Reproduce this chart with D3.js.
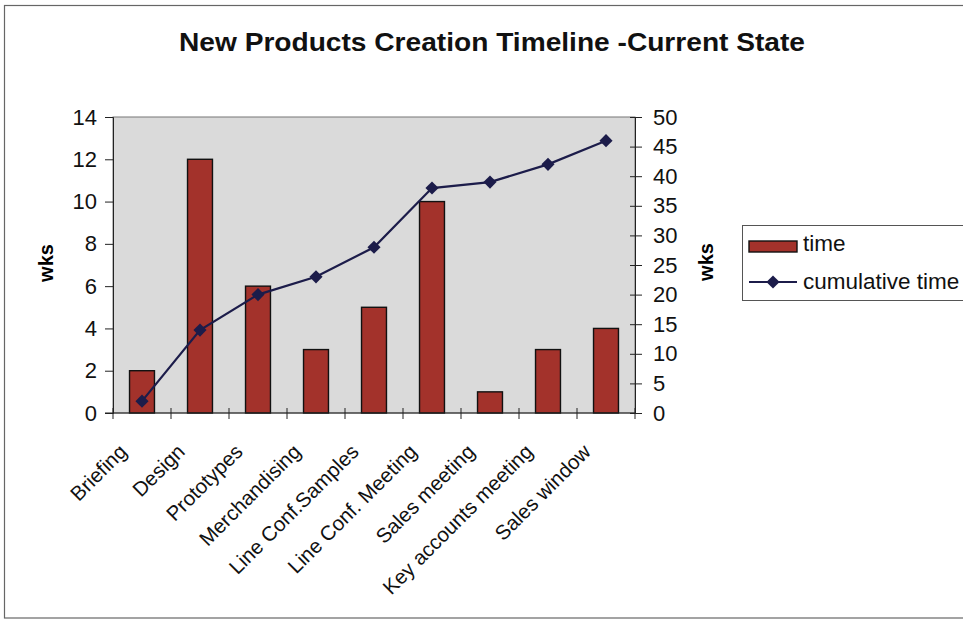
<!DOCTYPE html>
<html>
<head>
<meta charset="utf-8">
<script src="https://cdn.jsdelivr.net/npm/d3@7"></script>
<style>
  html, body { margin: 0; padding: 0; background: #fff; }
  svg { display: block; font-family: Arial, "Liberation Sans", sans-serif; }
</style>
</head>
<body>
<svg id="chart" width="963" height="628"></svg>
<script>
// Weeks spent in each step of the new-product process
const categories = ["Briefing", "Design", "Prototypes", "Merchandising", "Line Conf.Samples",
  "Line Conf. Meeting", "Sales meeting", "Key accounts meeting", "Sales window"];
const timeWeeks = [2, 12, 6, 3, 5, 10, 1, 3, 4];
const cumulativeWeeks = [2, 14, 20, 23, 28, 38, 39, 42, 46];
const leftTicks = [0, 2, 4, 6, 8, 10, 12, 14];
const rightTicks = [0, 5, 10, 15, 20, 25, 30, 35, 40, 45, 50];

const svg = d3.select("#chart");
const plot = { left: 113, right: 635, top: 117, bottom: 413 };
const FONT = "Arial, 'Liberation Sans', sans-serif";

// outer chart frame
svg.append("rect").attr("x", 4.5).attr("y", 5.5).attr("width", 980).attr("height", 612.5)
  .attr("fill", "#fff").attr("stroke", "#666").attr("stroke-width", 1.2);

// title
svg.append("text").attr("x", 492).attr("y", 51).attr("text-anchor", "middle")
  .attr("font-size", 25).attr("font-weight", "bold").attr("fill", "#111")
  .attr("textLength", 626).attr("lengthAdjust", "spacingAndGlyphs")
  .text("New Products Creation Timeline -Current State");

const x = d3.scaleBand().domain(categories).range([plot.left, plot.right]).padding(0);
const yL = d3.scaleLinear().domain([0, 14]).range([plot.bottom, plot.top]);
const yR = d3.scaleLinear().domain([0, 50]).range([plot.bottom, plot.top]);

// plot area
svg.append("rect").attr("x", plot.left).attr("y", plot.top)
  .attr("width", plot.right - plot.left).attr("height", plot.bottom - plot.top)
  .attr("fill", "#dadada").attr("stroke", "#777").attr("stroke-width", 1);

// bars
const barW = x.bandwidth() * 0.43;
svg.append("g").selectAll("rect").data(timeWeeks).join("rect")
  .attr("x", (d, i) => x(categories[i]) + (x.bandwidth() - barW) / 2)
  .attr("y", d => yL(d))
  .attr("width", barW)
  .attr("height", d => yL(0) - yL(d))
  .attr("fill", "#a3322b").attr("stroke", "#111").attr("stroke-width", 1.4);

// cumulative line with diamond markers
const cx = (i) => x(categories[i]) + x.bandwidth() / 2;
svg.append("path").datum(cumulativeWeeks)
  .attr("d", d3.line().x((d, i) => cx(i)).y(d => yR(d)))
  .attr("fill", "none").attr("stroke", "#1c1c4a").attr("stroke-width", 2.2);
const diamond = d3.symbol().type(d3.symbolDiamond2).size(110);
svg.append("g").selectAll("path").data(cumulativeWeeks).join("path")
  .attr("transform", (d, i) => `translate(${cx(i)},${yR(d)})`)
  .attr("d", diamond).attr("fill", "#1c1c4a");

// left axis
const gL = svg.append("g").attr("transform", `translate(${plot.left},0)`)
  .call(d3.axisLeft(yL).tickValues(leftTicks).tickSize(8).tickPadding(8));
gL.selectAll("text").attr("font-size", 22).attr("fill", "#111").attr("font-family", FONT);
gL.selectAll("line,path").attr("stroke", "#222");

// right axis
const gR = svg.append("g").attr("transform", `translate(${plot.right},0)`)
  .call(d3.axisRight(yR).tickValues(rightTicks).tickSize(7).tickPadding(11));
gR.selectAll("text").attr("font-size", 22).attr("fill", "#111").attr("font-family", FONT);
gR.selectAll("line").attr("x1", -5);
gR.selectAll("line,path").attr("stroke", "#222");

// category axis: baseline, boundary ticks and rotated labels
const gB = svg.append("g");
gB.append("line").attr("x1", plot.left - 8).attr("x2", plot.right)
  .attr("y1", plot.bottom).attr("y2", plot.bottom).attr("stroke", "#222");
const bounds = categories.map(c => x(c)).concat([plot.right]);
gB.selectAll("line.tk").data(bounds).join("line").attr("class", "tk")
  .attr("x1", d => d).attr("x2", d => d)
  .attr("y1", plot.bottom - 5).attr("y2", plot.bottom + 6).attr("stroke", "#222");
gB.selectAll("text").data(categories).join("text")
  .attr("transform", (d, i) => `translate(${cx(i) - 14},${453}) rotate(-45)`)
  .attr("text-anchor", "end")
  .attr("font-size", 20.5).attr("fill", "#111")
  .text(d => d);

// axis titles
svg.append("text").attr("transform", "translate(53,263) rotate(-90)")
  .attr("text-anchor", "middle").attr("font-size", 20).attr("font-weight", "bold").text("wks");
svg.append("text").attr("transform", "translate(713,262) rotate(-90)")
  .attr("text-anchor", "middle").attr("font-size", 20).attr("font-weight", "bold").text("wks");

// legend
const lg = svg.append("g");
lg.append("rect").attr("x", 742.5).attr("y", 225.5).attr("width", 240).attr("height", 75)
  .attr("fill", "#fff").attr("stroke", "#555");
lg.append("rect").attr("x", 749).attr("y", 241).attr("width", 48).attr("height", 11)
  .attr("fill", "#a3322b").attr("stroke", "#111").attr("stroke-width", 1.4);
lg.append("text").attr("x", 803).attr("y", 251).attr("font-size", 22.5).attr("fill", "#111").text("time");
lg.append("line").attr("x1", 749).attr("x2", 797).attr("y1", 282).attr("y2", 282)
  .attr("stroke", "#1c1c4a").attr("stroke-width", 2.2);
lg.append("path").attr("transform", "translate(773,282)").attr("d", diamond).attr("fill", "#1c1c4a");
lg.append("text").attr("x", 803).attr("y", 289).attr("font-size", 22.5).attr("fill", "#111").text("cumulative time");
</script>
</body>
</html>
